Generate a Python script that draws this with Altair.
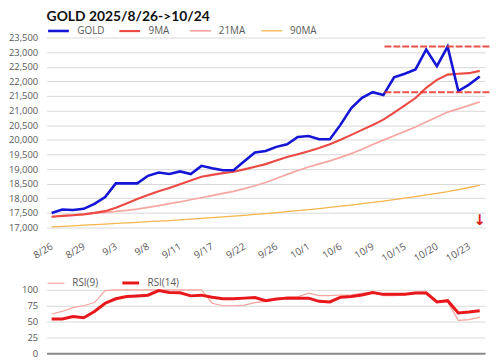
import altair as alt
import pandas as pd

dates = ["8/26", "8/27", "8/28", "8/29", "9/1", "9/2", "9/3", "9/4", "9/5", "9/8",
         "9/9", "9/10", "9/11", "9/12", "9/15", "9/17", "9/18", "9/19", "9/22", "9/23",
         "9/24", "9/26", "9/29", "9/30", "10/1", "10/2", "10/3", "10/6", "10/7", "10/8",
         "10/9", "10/13", "10/14", "10/15", "10/16", "10/17", "10/20", "10/21", "10/22", "10/23",
         "10/24"]

gold = [17500, 17620, 17600, 17640, 17810, 18040, 18510, 18510, 18510, 18770,
        18880, 18830, 18920, 18830, 19110, 19030, 18960, 18960, 19270, 19570,
        19620, 19760, 19850, 20100, 20130, 20020, 20020, 20520, 21090, 21440,
        21630, 21530, 22140, 22260, 22410, 23090, 22520, 23190, 21670, 21890,
        22170]

ma9 = [17370, 17400, 17420, 17450, 17500, 17560, 17680, 17820, 17980, 18110,
       18240, 18350, 18480, 18610, 18740, 18800, 18860, 18910, 18990, 19080,
       19170, 19290, 19410, 19510, 19610, 19720, 19850, 20000, 20170, 20340,
       20510, 20690, 20930, 21180, 21430, 21780, 22050, 22230, 22260, 22280,
       22360]

ma21 = [17370, 17400, 17430, 17460, 17490, 17520, 17550, 17590, 17630, 17690,
        17750, 17820, 17880, 17950, 18020, 18090, 18170, 18240, 18330, 18430,
        18540, 18680, 18820, 18950, 19070, 19180, 19280, 19400, 19530, 19680,
        19840, 19990, 20140, 20290, 20440, 20610, 20780, 20950, 21060, 21180,
        21300]

ma90 = [17020, 17040, 17060, 17080, 17100, 17120, 17140, 17160, 17180, 17200,
        17220, 17240, 17265, 17290, 17315, 17340, 17365, 17390, 17420, 17450,
        17480, 17510, 17545, 17580, 17615, 17650, 17690, 17730, 17770, 17815,
        17860, 17905, 17955, 18005, 18060, 18115, 18170, 18230, 18300, 18370,
        18440]

rsi9 = [62, 66, 72, 75, 80, 99, 100, 100, 100, 100,
        100, 100, 100, 100, 100, 79, 75, 75, 76, 80,
        82, 85, 89, 89, 95, 91, 91, 92, 92, 95,
        96, 91, 91, 92, 96, 97, 82, 81, 52, 53,
        57]

rsi14 = [54, 54, 58, 56, 66, 79, 86, 89.5, 90.5, 91.7,
         99, 96, 95.5, 90.6, 91.7, 88.5, 86, 86, 87, 88,
         83, 85.5, 87, 87, 87, 82, 81, 88.5, 89.5, 92,
         96, 93, 93, 93, 95, 95, 81, 83, 63.5, 65,
         67]

# resistance / support levels (dashed red lines) and their x-span in trading-day index
levels = [23190, 21630]
level_start = 31.1
level_end = 41.0
arrow_value = 17270

tick_idx = list(range(0, 40, 3))
y_ticks = list(range(17000, 23501, 500))

FONT = "Open Sans"
LABEL_COLOR = "#595959"
GRID = "#d9d9d9"

main_series = ["GOLD", "9MA", "21MA", "90MA"]
main_colors = ["#1515d6", "#ec4a44", "#f6a7a2", "#f5b54a"]
main_widths = [2.6, 1.3, 1.2, 1.3]

rows = []
for name, vals in [("90MA", ma90), ("21MA", ma21), ("9MA", ma9), ("GOLD", gold)]:
    for i, v in enumerate(vals):
        rows.append({"idx": i, "date": dates[i], "series": name, "value": v})
df_main = pd.DataFrame(rows)

rows = []
for name, vals in [("RSI(9)", rsi9), ("RSI(14)", rsi14)]:
    for i, v in enumerate(vals):
        rows.append({"idx": i, "date": dates[i], "series": name, "value": v})
df_rsi = pd.DataFrame(rows)

df_levels = pd.DataFrame({"value": levels, "idx": [level_start] * 2, "idx2": [level_end] * 2})
df_arrow = pd.DataFrame({"idx": [40], "value": [arrow_value], "t": ["↓"]})

label_expr = "[" + ",".join("'" + d + "'" for d in dates) + "][datum.value]"

x_dom = [-0.47, 40.5]
W = 443
Y_LABEL_SIZE = 9.5
Y_LABEL_PAD = 9


def legend(sym_len, col_pad, offset):
    return alt.Legend(
        orient="top", direction="horizontal", title=None, symbolType="stroke",
        symbolSize=sym_len * sym_len, gridAlign="all", columnPadding=col_pad, labelOffset=7,
        labelFont=FONT, labelFontSize=10, labelColor=LABEL_COLOR, offset=offset, padding=0,
    )


x_scale = alt.Scale(domain=x_dom, nice=False, zero=False)
x_main = alt.X("idx:Q", scale=x_scale,
               axis=alt.Axis(values=tick_idx, labelExpr=label_expr, labelAngle=-31,
                             labelAlign="right", labelBaseline="middle",
                             labelOverlap=False, labelFlush=False,
                             grid=False, domain=False, ticks=False, title=None,
                             labelPadding=18, labelFont=FONT, labelFontSize=10,
                             labelColor=LABEL_COLOR))
y_main = alt.Y("value:Q", scale=alt.Scale(domain=[17000, 23500], nice=False, zero=False),
               axis=alt.Axis(values=y_ticks, format=",.0f", title=None, domain=False, ticks=False,
                             labelOverlap=False, labelFlush=False,
                             gridColor=GRID, labelPadding=Y_LABEL_PAD,
                             labelFont=FONT, labelFontSize=Y_LABEL_SIZE, labelColor=LABEL_COLOR))

main_legend = legend(21, 10, 1)
lines = alt.Chart(df_main).mark_line().encode(
    x=x_main,
    y=y_main,
    color=alt.Color("series:N", scale=alt.Scale(domain=main_series, range=main_colors),
                    legend=main_legend),
    strokeWidth=alt.StrokeWidth("series:N", scale=alt.Scale(domain=main_series, range=main_widths),
                                legend=main_legend),
    detail="series:N",
)

level_rules = alt.Chart(df_levels).mark_rule(color="#e8312c", strokeWidth=2,
                                             strokeDash=[7, 2], opacity=0.85).encode(
    x=x_main, x2="idx2:Q", y=y_main)

arrow = alt.Chart(df_arrow).mark_text(color="#e0201b", fontSize=15, fontWeight="bold",
                                      font="DejaVu Sans").encode(
    x=x_main, y=y_main, text="t:N")

main = alt.layer(lines, level_rules, arrow).properties(
    width=W, height=192,
    title=alt.TitleParams("GOLD 2025/8/26->10/24", anchor="start", frame="group", font="Lato",
                          fontSize=14, fontWeight="bold", color="#111111", offset=-5),
)

rsi_series = ["RSI(9)", "RSI(14)"]
rsi_legend = legend(17, 11, -5)
rsi = alt.Chart(df_rsi).mark_line().encode(
    x=alt.X("idx:Q", scale=x_scale,
            axis=alt.Axis(labels=False, ticks=False, grid=False, title=None,
                          domainColor="#8c8c8c", domainWidth=2)),
    y=alt.Y("value:Q", scale=alt.Scale(domain=[0, 100], nice=False),
            axis=alt.Axis(values=[0, 25, 50, 75, 100], title=None, domain=False, ticks=False,
                          labelOverlap=False, labelFlush=False,
                          gridColor=GRID, labelPadding=Y_LABEL_PAD, minExtent=38,
                          labelFont=FONT, labelFontSize=Y_LABEL_SIZE, labelColor=LABEL_COLOR)),
    color=alt.Color("series:N", scale=alt.Scale(domain=rsi_series, range=["#f7a29c", "#e8171b"]),
                    legend=rsi_legend),
    strokeWidth=alt.StrokeWidth("series:N", scale=alt.Scale(domain=rsi_series, range=[1.2, 3]),
                                legend=rsi_legend),
    detail="series:N",
).properties(width=W, height=64)

chart = alt.vconcat(main, rsi, spacing=10).resolve_scale(
    color="independent", strokeWidth="independent"
).resolve_legend(color="independent", strokeWidth="independent").properties(
    padding={"left": 0, "top": 0, "right": 0, "bottom": 0}
).configure_view(stroke=None)

chart.save("out.html", embed_options={"renderer": "svg", "actions": False})
